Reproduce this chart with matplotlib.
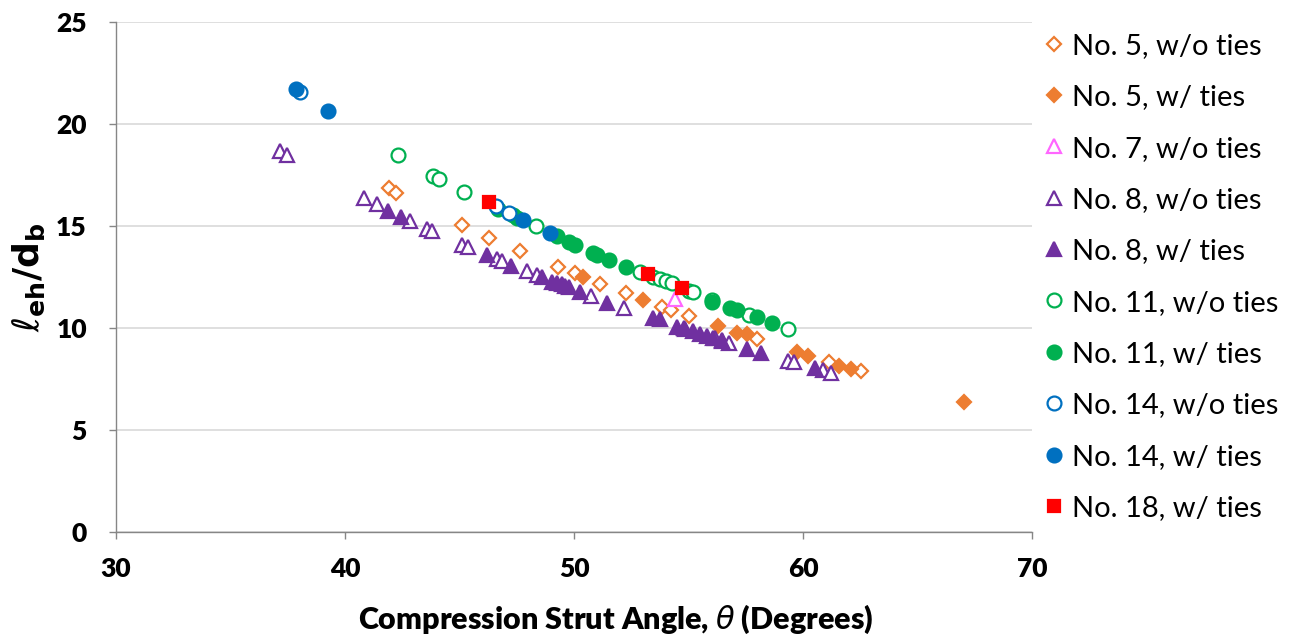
import matplotlib
matplotlib.use("Agg")
import matplotlib.pyplot as plt

# ---- data (strut angle in degrees, l_eh/d_b) ----
no5_wo_x = [41.92, 42.21, 45.10, 46.29, 47.64, 49.30, 50.04, 51.14, 52.27, 53.83, 54.24, 55.02, 57.98, 61.13, 62.53]
no5_wo_y = [16.84, 16.63, 15.05, 14.40, 13.75, 12.99, 12.68, 12.16, 11.72, 11.04, 10.88, 10.58, 9.45, 8.35, 7.89]

no5_w_x = [50.41, 53.03, 56.28, 57.10, 57.54, 59.75, 60.20, 61.59, 62.08, 67.03]
no5_w_y = [12.48, 11.37, 10.12, 9.75, 9.69, 8.84, 8.63, 8.15, 7.98, 6.39]

no7_wo_x = [54.41]
no7_wo_y = [11.41]

no8_wo_x = [37.16, 37.48, 40.84, 41.38, 42.84, 43.58, 43.79, 45.13, 45.36, 46.62, 46.84, 47.93, 48.37,
            50.74, 52.18, 54.79, 56.16, 56.45, 56.78, 59.36, 59.62, 60.89, 61.21]
no8_wo_y = [18.69, 18.48, 16.37, 16.08, 15.26, 14.87, 14.76, 14.08, 13.97, 13.37, 13.29, 12.79, 12.60,
            11.55, 10.99, 9.99, 9.52, 9.41, 9.25, 8.40, 8.32, 7.94, 7.78]

no8_w_x = [41.88, 42.43, 46.18, 47.25, 48.59, 49.03, 49.24, 49.46, 49.61, 49.79, 50.26, 51.44,
           53.46, 53.76, 54.48, 54.85, 55.20, 55.50, 55.79, 56.09, 56.45, 57.54, 58.15, 60.52]
no8_w_y = [15.75, 15.46, 13.56, 13.04, 12.48, 12.27, 12.19, 12.18, 12.08, 12.01, 11.76, 11.25,
           10.48, 10.42, 10.05, 9.95, 9.83, 9.71, 9.61, 9.49, 9.34, 8.96, 8.79, 8.02]

no11_wo_x = [42.30, 43.86, 44.12, 45.20, 48.32, 52.88, 53.46, 53.76, 54.02, 54.27, 55.02, 55.21, 56.01, 57.64, 59.36]
no11_wo_y = [18.47, 17.45, 17.30, 16.68, 14.99, 12.73, 12.49, 12.39, 12.32, 12.22, 11.81, 11.76, 11.37, 10.64, 9.94]

no11_w_x = [46.68, 47.35, 47.52, 49.26, 49.80, 50.04, 50.84, 50.99, 51.54, 52.29, 56.01, 56.81, 57.12, 57.98, 58.66]
no11_w_y = [15.83, 15.54, 15.41, 14.53, 14.20, 14.07, 13.68, 13.58, 13.33, 13.00, 11.29, 11.00, 10.88, 10.55, 10.26]

no14_wo_x = [38.05, 46.59, 47.14]
no14_wo_y = [21.55, 15.96, 15.66]

no14_w_x = [37.85, 39.26, 47.77, 48.97]
no14_w_y = [21.72, 20.64, 15.29, 14.66]

no18_w_x = [46.29, 53.22, 54.70]
no18_w_y = [16.18, 12.65, 11.98]

labels = ["No. 5, w/o ties", "No. 5, w/ ties", "No. 7, w/o ties", "No. 8, w/o ties", "No. 8, w/ ties",
          "No. 11, w/o ties", "No. 11, w/ ties", "No. 14, w/o ties", "No. 14, w/ ties", "No. 18, w/ ties"]
x_ticks = [30, 40, 50, 60, 70]
y_ticks = [0, 5, 10, 15, 20, 25]

ORANGE = "#ED7D31"
PINK = "#FF66FF"
PURPLE = "#7030A0"
GREEN = "#00B050"
BLUE = "#0070C0"
RED = "#FF0000"

plt.rcParams['font.family'] = ['Lato', 'DejaVu Sans']
plt.rcParams['mathtext.fontset'] = 'dejavusans'

fig = plt.figure(figsize=(12.92, 6.36), dpi=100)
ax = fig.add_axes([116/1292, 1 - 532/636, 916/1292, 510/636])

series = [
    (no5_wo_x, no5_wo_y, "D", ORANGE, False, 7),
    (no5_w_x, no5_w_y, "D", ORANGE, True, 7),
    (no7_wo_x, no7_wo_y, "^", PINK, False, 9.5),
    (no8_wo_x, no8_wo_y, "^", PURPLE, False, 9.5),
    (no8_w_x, no8_w_y, "^", PURPLE, True, 9.5),
    (no11_wo_x, no11_wo_y, "o", GREEN, False, 10),
    (no11_w_x, no11_w_y, "o", GREEN, True, 10),
    (no14_wo_x, no14_wo_y, "o", BLUE, False, 10),
    (no14_w_x, no14_w_y, "o", BLUE, True, 10),
    (no18_w_x, no18_w_y, "s", RED, True, 8.5),
]

for (xs, ys, m, c, filled, ms), lab in zip(series, labels):
    ax.plot(xs, ys, linestyle="none", marker=m, markersize=ms,
            markerfacecolor=c if filled else "white", markeredgecolor=c,
            markeredgewidth=1.6, label=lab, zorder=3)

ax.set_xlim(30, 70)
ax.set_ylim(0, 25)
ax.set_xticks(x_ticks)
ax.set_yticks(y_ticks)
ax.yaxis.grid(True, color="#D9D9D9", linewidth=1.2)
ax.set_axisbelow(True)
for s in ["top", "right"]:
    ax.spines[s].set_visible(False)
for s in ["left", "bottom"]:
    ax.spines[s].set_color("#868686")
    ax.spines[s].set_linewidth(1.0)
ax.tick_params(axis="both", direction="out", length=5, width=1.0, color="#868686",
               labelsize=19)
ax.tick_params(axis="y", pad=16)
ax.tick_params(axis="x", pad=13)
for t in ax.get_xticklabels() + ax.get_yticklabels():
    t.set_fontweight("heavy")

ax.set_xlabel(r"Compression Strut Angle, $\theta$ (Degrees)", fontsize=22, fontweight="heavy")
ax.xaxis.set_label_coords(0.545, -0.138)
ax.set_ylabel(r"$\ell_{\mathbf{eh}}\mathbf{/d_b}$", fontsize=26, fontweight="bold")
ax.yaxis.set_label_coords(-0.075, 0.5)

fig.legend(loc="center left", bbox_to_anchor=(1031/1292, 1 - 277/636), frameon=False,
           fontsize=21, labelspacing=0.87, handletextpad=0.2, handlelength=0.8,
           borderaxespad=0)

fig.savefig("out.png", dpi=100)
